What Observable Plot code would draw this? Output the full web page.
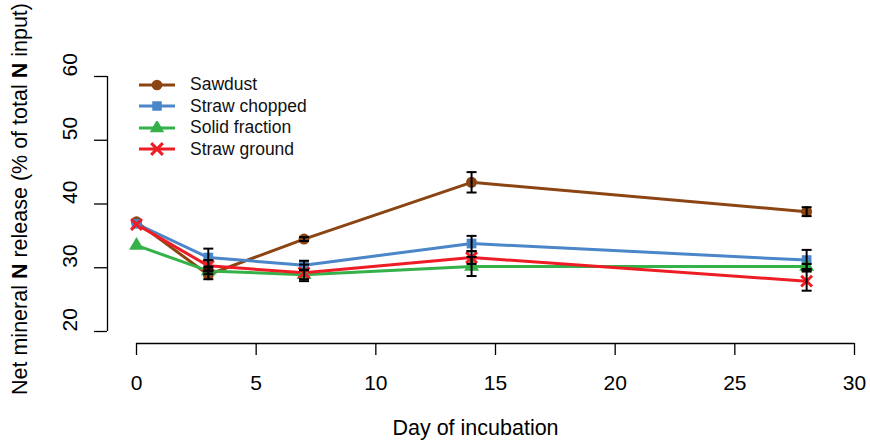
<!DOCTYPE html>
<html><head><meta charset="utf-8">
<script src="https://cdn.jsdelivr.net/npm/d3@7"></script>
<script src="https://cdn.jsdelivr.net/npm/@observablehq/plot@0.6"></script>
<style>
body{margin:0;background:#fff;font-family:"Liberation Sans",Arial,sans-serif;}
#wrap{position:relative;width:870px;height:441px;overflow:hidden;}
#legend{position:absolute;left:138px;top:74px;font-size:17.5px;color:#111;}
#legend .row{display:flex;align-items:center;height:21.5px;}
#legend .row span{margin-left:12px;}
</style></head><body><div id="wrap"><div id="legend"></div></div>
<script>
const days = [0, 3, 7, 14, 28];
const seriesNames = ["Sawdust", "Straw chopped", "Solid fraction", "Straw ground"];
const seriesColors = ["#8B4513", "#4A86C8", "#35B14A", "#EE1C25"];
const seriesSymbols = ["circle", "square", "triangle", "times"];

const sawdust       = [37.2, 28.9, 34.5, 43.4, 38.8];
const sawdustSE     = [0.0, 0.7, 0.3, 1.6, 0.7];
const strawChopped  = [36.9, 31.6, 30.4, 33.8, 31.2];
const strawChoppedSE= [0.0, 1.4, 0.7, 1.2, 1.6];
const solidFraction = [33.5, 29.5, 28.9, 30.2, 30.2];
const solidFractionSE=[0.0, 0.5, 0.7, 1.5, 0.4];
const strawGround   = [36.8, 30.3, 29.2, 31.6, 27.9];
const strawGroundSE = [0.0, 0.9, 1.3, 1.0, 1.5];

const xTicks = [0, 5, 10, 15, 20, 25, 30];
const yTicks = [20, 30, 40, 50, 60];
const xTitle = "Day of incubation";
const yTitleParts = [["Net mineral ", false], ["N", true], [" release (% of total ", false], ["N", true], [" input)", false]];

const valuesList = [sawdust, strawChopped, solidFraction, strawGround];
const seList = [sawdustSE, strawChoppedSE, solidFractionSE, strawGroundSE];
const data = seriesNames.flatMap((s, i) => days.map((d, j) => ({
  series: s, day: d, value: valuesList[i][j],
  lo: valuesList[i][j] - seList[i][j], hi: valuesList[i][j] + seList[i][j], se: seList[i][j]
})));
const errData = data.filter(d => d.se > 0);

const capSymbol = {draw(ctx, size) { const w = Math.sqrt(size / Math.PI); ctx.moveTo(-w, 0); ctx.lineTo(w, 0); }};

const chart = Plot.plot({
  width: 870, height: 441,
  marginLeft: 136, marginRight: 16, marginTop: 76, marginBottom: 110,
  style: {fontFamily: "Liberation Sans, Arial, sans-serif", background: "transparent"},
  x: {domain: [0, 30], axis: null},
  y: {domain: [20, 60], axis: null},
  color: {domain: seriesNames, range: seriesColors},
  symbol: {domain: seriesNames, range: seriesSymbols},
  marks: [
    Plot.ruleY([yTicks[0]], {x1: xTicks[0], x2: xTicks[xTicks.length - 1], dy: 12, stroke: "#000", strokeWidth: 1.3}),
    Plot.axisX({ticks: xTicks, tickSize: 12, dy: 12, tickPadding: 20, fontSize: 21, label: null, stroke: "#000", strokeWidth: 1.3, color: "#000"}),
    Plot.ruleX([xTicks[0]], {y1: yTicks[0], y2: yTicks[yTicks.length - 1], dx: -29, stroke: "#000", strokeWidth: 1.3}),
    Plot.axisY({ticks: yTicks, tickSize: 13, dx: -29, tickFormat: () => "", label: null, stroke: "#000", strokeWidth: 1.3}),
    Plot.text(yTicks, {y: d => d, text: d => String(d), frameAnchor: "left", dx: -66, rotate: -90, fontSize: 21, fill: "#000"}),
    Plot.text([xTitle], {frameAnchor: "bottom", dx: -20, dy: 97, fontSize: 21.5, fill: "#000", lineAnchor: "middle"}),
    Plot.line(data, {x: "day", y: "value", z: "series", stroke: "series", strokeWidth: 3}),
    Plot.dot(data.filter(d => d.series !== seriesNames[3]), {x: "day", y: "value", symbol: "series", fill: "series", r: 5.5}),
    Plot.dot(data.filter(d => d.series === seriesNames[3]), {x: "day", y: "value", symbol: "series", stroke: "series", strokeWidth: 3, r: 5}),
    Plot.ruleX(errData, {x: "day", y1: "lo", y2: "hi", stroke: "#000", strokeWidth: 2}),
    Plot.dot(errData, {x: "day", y: "lo", symbol: capSymbol, stroke: "#000", strokeWidth: 2, r: 5}),
    Plot.dot(errData, {x: "day", y: "hi", symbol: capSymbol, stroke: "#000", strokeWidth: 2, r: 5})
  ]
});
document.getElementById("wrap").prepend(chart);

const svg = d3.select(chart);
const yt = svg.append("text")
  .attr("transform", "translate(27,199) rotate(-90)")
  .attr("text-anchor", "middle")
  .attr("font-size", 21.5)
  .attr("fill", "#000");
yTitleParts.forEach(([t, b]) => yt.append("tspan").attr("font-weight", b ? "bold" : "normal").text(t));

const legend = d3.select("#legend");
seriesNames.forEach((s, i) => {
  const row = legend.append("div").attr("class", "row");
  const sw = row.append("svg").attr("width", 40).attr("height", 14);
  sw.append("line").attr("x1", 1).attr("x2", 37).attr("y1", 7).attr("y2", 7).attr("stroke", seriesColors[i]).attr("stroke-width", 3);
  const symType = {circle: d3.symbolCircle, square: d3.symbolSquare, triangle: d3.symbolTriangle, times: d3.symbolTimes}[seriesSymbols[i]];
  const p = sw.append("path").attr("transform", "translate(19,7)").attr("d", d3.symbol(symType, 90)());
  if (seriesSymbols[i] === "times") p.attr("fill", "none").attr("stroke", seriesColors[i]).attr("stroke-width", 3);
  else p.attr("fill", seriesColors[i]);
  row.append("span").text(s);
});
</script></body></html>
